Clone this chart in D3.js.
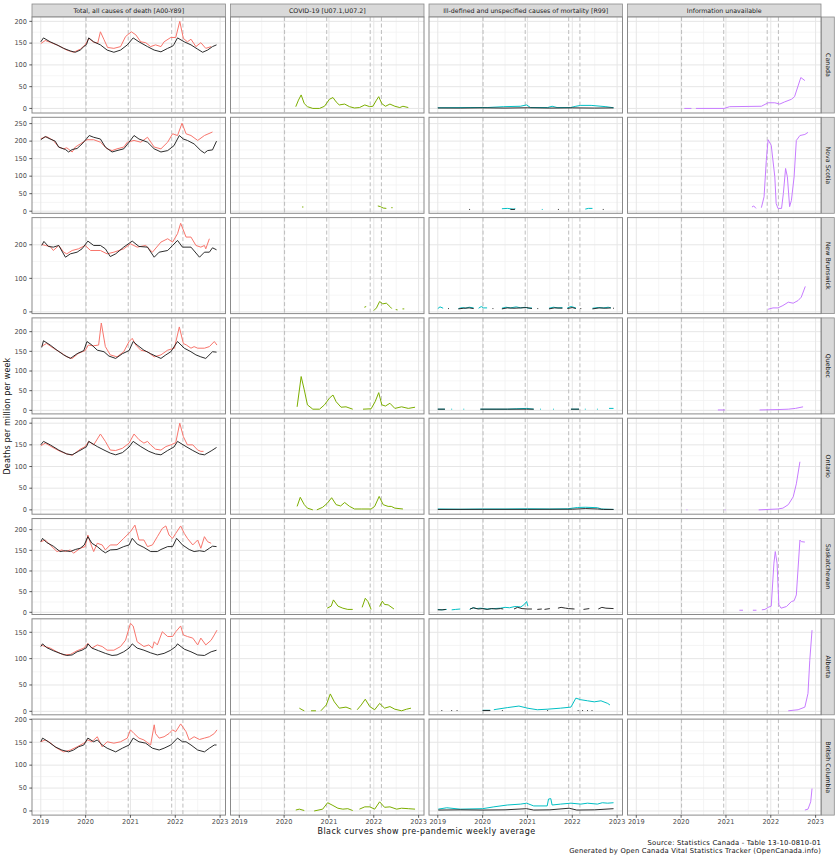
<!DOCTYPE html>
<html><head><meta charset="utf-8">
<script src="https://cdn.jsdelivr.net/npm/d3@7"></script>
<style>body{margin:0;background:#fff}svg{display:block}text{font-family:"DejaVu Sans",sans-serif}</style>
</head><body><svg id="c" width="839" height="858"></svg>
<script>
// ---------------- DATA ----------------
const provinces = ["Canada","Nova Scotia","New Brunswick","Quebec","Ontario","Saskatchewan","Alberta","British Columbia"];
const causes = ["Total, all causes of death [A00-Y89]","COVID-19 [U07.1,U07.2]","Ill-defined and unspecified causes of mortality [R99]","Information unavailable"];
const causeColors = ["#F8766D","#7CAE00","#00BFC4","#C77CFF"];
const yearTicks = [2019,2020,2021,2022,2023];
const yearMinor = [2019.5,2020.5,2021.5,2022.5];
const eventDates = [2020.01,2020.95,2021.92,2022.17];
const xLimits = [2018.804,2023.12];
const yTicksByProvince = [[0,50,100,150,200],[0,50,100,150,200,250],[0,100,200],[0,50,100,150,200],[0,50,100,150,200],[0,50,100,150,200],[0,50,100,150],[0,50,100,150,200]];
const yLimitsByProvince = [[-10.5,210],[-6,268],[-5,281],[-9,235],[-10,211.5],[-5.3,227],[-6.6,175.6],[-9,200.5]];
const yTitle = "Deaths per million per week";
const xTitle = "Black curves show pre-pandemic weekly average";
const captionLines = ["Source: Statistics Canada - Table 13-10-0810-01","Generated by Open Canada Vital Statistics Tracker (OpenCanada.info)"];

// Canada
const caTotal = [[2019.00,149],[2019.10,156],[2019.21,152],[2019.40,144],[2019.58,134],[2019.73,129],[2019.88,136],[2019.99,146],[2020.07,161],[2020.18,152],[2020.27,150],[2020.33,176],[2020.41,158],[2020.49,140],[2020.63,138],[2020.78,142],[2020.89,165],[2021.02,176],[2021.12,169],[2021.23,153],[2021.34,151],[2021.45,142],[2021.56,146],[2021.68,142],[2021.75,153],[2021.90,163],[2022.01,163],[2022.10,200],[2022.18,161],[2022.27,153],[2022.35,159],[2022.46,142],[2022.57,151],[2022.68,138],[2022.80,142]];
const caBase = [[2019.00,153],[2019.06,162],[2019.21,153],[2019.36,146],[2019.51,138],[2019.66,132],[2019.77,129],[2019.88,134],[2019.96,142],[2020.02,147],[2020.07,162],[2020.18,153],[2020.33,146],[2020.48,134],[2020.63,129],[2020.78,134],[2020.93,146],[2021.06,162],[2021.19,153],[2021.38,142],[2021.53,134],[2021.68,130],[2021.83,138],[2021.94,143],[2021.97,147],[2022.05,162],[2022.20,153],[2022.35,146],[2022.50,136],[2022.61,129],[2022.72,134],[2022.83,142],[2022.92,146]];
const caCovid = [[2020.26,4],[2020.32,19],[2020.38,31],[2020.45,11],[2020.52,4],[2020.64,0],[2020.79,0],[2020.90,5],[2021.01,21],[2021.09,25],[2021.16,15],[2021.23,8],[2021.35,10],[2021.46,4],[2021.57,1],[2021.68,2],[2021.80,8],[2021.91,4],[2021.98,5],[2022.06,19],[2022.11,27],[2022.18,11],[2022.26,5],[2022.36,10],[2022.47,5],[2022.58,2],[2022.65,5],[2022.77,2]];
const caIll = [[2019.00,1.5],[2019.72,2],[2020.10,2],[2020.47,4],[2020.84,5],[2020.98,8],[2021.07,2],[2021.45,2],[2021.55,5],[2021.66,2],[2021.96,2],[2022.08,5],[2022.19,7],[2022.42,7],[2022.64,5],[2022.75,4],[2022.92,1.5]];
const caIllBase = [[2019.00,1],[2019.50,0.8],[2020.00,1.3],[2020.50,0.8],[2021.00,1.5],[2021.50,0.8],[2022.00,1.3],[2022.50,0.8],[2022.92,1.2]];
const caUnavail = [[2020.07,0],[2020.23,0],[2020.26,null],[2020.33,0],[2020.96,0],[2021.08,4],[2021.79,5],[2021.94,13],[2022.09,13],[2022.20,10],[2022.31,15],[2022.46,21],[2022.53,27],[2022.67,71],[2022.76,64]];

// Nova Scotia
const nsTotal = [[2019.00,207],[2019.13,213],[2019.28,202],[2019.40,183],[2019.51,178],[2019.58,181],[2019.70,169],[2019.77,183],[2019.88,192],[2020.03,204],[2020.18,204],[2020.33,197],[2020.48,178],[2020.59,173],[2020.70,178],[2020.85,183],[2020.93,197],[2021.08,202],[2021.23,197],[2021.38,211],[2021.53,183],[2021.68,178],[2021.83,197],[2021.94,221],[2022.05,216],[2022.15,251],[2022.24,221],[2022.35,216],[2022.50,202],[2022.65,216],[2022.83,226]];
const nsBase = [[2019.00,204],[2019.10,213],[2019.21,206],[2019.32,200],[2019.40,183],[2019.55,176],[2019.62,169],[2019.70,176],[2019.81,179],[2019.92,192],[2020.03,208],[2020.08,216],[2020.18,211],[2020.33,206],[2020.44,183],[2020.59,169],[2020.70,173],[2020.85,178],[2020.97,197],[2021.08,216],[2021.19,206],[2021.38,197],[2021.53,178],[2021.68,169],[2021.83,173],[2021.97,187],[2022.09,216],[2022.18,206],[2022.27,202],[2022.42,192],[2022.57,173],[2022.65,166],[2022.72,173],[2022.83,175],[2022.92,200]];
const nsCovid = [[2020.40,12],[2020.43,12],[2020.44,null],[2022.09,15],[2022.15,13],[2022.21,9],[2022.28,8],[2022.30,null],[2022.39,10],[2022.42,10]];
const nsIll = [[2020.43,7],[2020.55,8],[2020.68,6],[2020.73,7],[2020.75,null],[2021.32,5],[2021.34,5],[2021.36,null],[2022.29,6],[2022.36,8],[2022.45,8]];
const nsIllBase = [[2019.70,5],[2019.72,5],[2019.74,null],[2020.62,5],[2020.72,5],[2020.74,null],[2021.68,5],[2021.70,5],[2021.72,null],[2022.68,5],[2022.70,5]];
const nsUnavail = [[2021.58,12],[2021.62,15],[2021.67,8],[2021.69,null],[2021.79,10],[2021.85,41],[2021.90,145],[2021.94,204],[2022.01,188],[2022.09,98],[2022.12,22],[2022.16,8],[2022.24,8],[2022.28,50],[2022.33,122],[2022.37,98],[2022.42,13],[2022.46,31],[2022.52,98],[2022.57,202],[2022.65,216],[2022.76,219],[2022.83,225]];

// New Brunswick
const nbTotal = [[2019.02,201],[2019.10,198],[2019.21,195],[2019.28,183],[2019.40,198],[2019.51,178],[2019.58,173],[2019.70,183],[2019.84,188],[2019.99,198],[2020.11,183],[2020.33,183],[2020.48,173],[2020.63,178],[2020.85,188],[2021.00,203],[2021.15,193],[2021.34,198],[2021.49,178],[2021.68,208],[2021.83,218],[2021.94,208],[2022.05,233],[2022.12,264],[2022.24,223],[2022.35,223],[2022.46,198],[2022.57,193],[2022.65,198],[2022.68,188],[2022.76,218]];
const nbBase = [[2019.02,198],[2019.07,210],[2019.17,195],[2019.28,193],[2019.40,198],[2019.55,163],[2019.66,173],[2019.81,178],[2019.92,188],[2020.05,211],[2020.18,198],[2020.33,198],[2020.44,188],[2020.55,165],[2020.67,173],[2020.85,193],[2021.04,211],[2021.19,195],[2021.38,193],[2021.53,163],[2021.64,178],[2021.83,183],[2021.94,198],[2022.05,213],[2022.16,193],[2022.35,193],[2022.54,163],[2022.65,178],[2022.76,178],[2022.83,191],[2022.92,185]];
const nbCovid = [[2021.79,14],[2021.83,16],[2021.85,null],[2022.00,4],[2022.06,12],[2022.13,31],[2022.20,24],[2022.28,26],[2022.36,16],[2022.40,10],[2022.42,null],[2022.49,7],[2022.53,6],[2022.55,null],[2022.64,9],[2022.68,9]];
const nbIll = [[2019.00,10],[2019.05,15],[2019.12,11],[2019.13,null],[2019.46,10],[2019.55,13],[2019.62,11],[2019.70,14],[2019.80,12],[2019.81,null],[2019.91,11],[2019.97,16],[2020.02,12],[2020.10,12],[2020.11,null],[2020.43,11],[2020.52,14],[2020.62,12],[2020.75,15],[2020.85,12],[2020.95,14],[2021.02,11],[2021.10,12],[2021.11,null],[2021.48,11],[2021.58,14],[2021.68,12],[2021.78,13],[2021.79,null],[2021.89,12],[2021.97,16],[2022.08,12],[2022.09,null],[2022.45,11],[2022.58,13],[2022.70,12],[2022.80,14],[2022.86,12]];
const nbIllBase = [[2019.23,10],[2019.25,10],[2019.26,null],[2019.46,9],[2019.58,11],[2019.70,12],[2019.80,10],[2019.81,null],[2020.22,10],[2020.24,10],[2020.25,null],[2020.43,9],[2020.55,12],[2020.70,11],[2020.85,12],[2020.98,13],[2021.10,10],[2021.11,null],[2021.22,10],[2021.24,10],[2021.25,null],[2021.48,9],[2021.60,12],[2021.78,11],[2021.79,null],[2021.89,10],[2022.00,13],[2022.08,10],[2022.09,null],[2022.18,10],[2022.20,10],[2022.21,null],[2022.45,9],[2022.60,12],[2022.75,11],[2022.86,12],[2022.87,null],[2022.91,11],[2022.93,11]];
const nbUnavail = [[2021.94,8],[2022.05,12],[2022.16,12],[2022.27,19],[2022.39,29],[2022.50,26],[2022.61,34],[2022.68,44],[2022.77,76]];

// Quebec
const qcTotal = [[2019.02,163],[2019.13,170],[2019.28,158],[2019.47,145],[2019.58,136],[2019.70,132],[2019.84,145],[2019.99,152],[2020.06,166],[2020.17,164],[2020.29,166],[2020.35,222],[2020.44,162],[2020.55,141],[2020.70,136],[2020.85,149],[2020.97,175],[2021.04,183],[2021.12,166],[2021.23,153],[2021.38,149],[2021.53,136],[2021.68,141],[2021.83,153],[2021.98,158],[2022.09,212],[2022.18,170],[2022.25,166],[2022.35,158],[2022.42,162],[2022.50,158],[2022.65,158],[2022.76,162],[2022.87,175],[2022.93,166]];
const qcBase = [[2019.02,160],[2019.06,177],[2019.21,166],[2019.36,153],[2019.51,141],[2019.66,132],[2019.81,144],[2019.96,152],[2020.03,175],[2020.14,166],[2020.26,153],[2020.41,149],[2020.52,138],[2020.67,132],[2020.82,144],[2020.97,152],[2021.06,175],[2021.15,166],[2021.30,153],[2021.45,144],[2021.60,136],[2021.68,132],[2021.79,141],[2021.90,149],[2022.05,175],[2022.20,158],[2022.35,149],[2022.46,141],[2022.57,136],[2022.68,132],[2022.83,149],[2022.92,148]];
const qcCovid = [[2020.29,9],[2020.38,86],[2020.45,52],[2020.52,14],[2020.64,3],[2020.79,3],[2020.90,14],[2021.01,31],[2021.09,39],[2021.16,22],[2021.27,8],[2021.38,9],[2021.53,3],[2021.55,null],[2021.76,3],[2021.94,4],[2022.03,22],[2022.11,45],[2022.18,14],[2022.26,11],[2022.36,18],[2022.47,5],[2022.62,9],[2022.77,5],[2022.92,8]];
const qcIll = [[2019.00,3],[2019.16,3],[2019.17,null],[2019.30,3],[2019.32,3],[2019.33,null],[2019.57,3],[2019.59,3],[2019.60,null],[2019.95,3],[2020.30,3],[2020.55,3],[2020.75,4],[2020.98,5],[2021.14,3],[2021.15,null],[2021.28,3],[2021.30,3],[2021.31,null],[2021.57,3],[2021.59,3],[2021.60,null],[2021.97,3],[2022.15,3],[2022.16,null],[2022.28,3],[2022.30,3],[2022.31,null],[2022.55,3],[2022.57,3],[2022.58,null],[2022.82,5],[2022.92,5]];
const qcIllBase = [[2019.00,3],[2019.16,3],[2019.17,null],[2019.95,3],[2020.55,3],[2020.98,3],[2021.14,3],[2021.15,null],[2021.97,3],[2022.15,3]];
const qcUnavail = [[2020.82,1],[2020.98,1],[2020.99,null],[2021.75,1],[2022.16,2],[2022.39,3],[2022.55,5],[2022.72,9]];

// Ontario
const onTotal = [[2019.00,148],[2019.10,154],[2019.25,145],[2019.43,135],[2019.58,129],[2019.70,126],[2019.88,140],[2019.99,146],[2020.07,158],[2020.18,150],[2020.33,175],[2020.44,158],[2020.55,138],[2020.67,137],[2020.82,142],[2020.97,154],[2021.08,175],[2021.19,162],[2021.30,154],[2021.38,158],[2021.45,150],[2021.56,140],[2021.68,138],[2021.79,146],[2021.90,150],[2022.01,155],[2022.10,200],[2022.18,169],[2022.27,150],[2022.39,150],[2022.50,138],[2022.57,135],[2022.63,135]];
const onBase = [[2019.00,150],[2019.06,158],[2019.21,150],[2019.40,138],[2019.58,129],[2019.70,127],[2019.84,135],[2019.96,142],[2020.02,146],[2020.07,158],[2020.26,146],[2020.41,138],[2020.55,131],[2020.67,127],[2020.82,132],[2020.97,145],[2021.06,158],[2021.23,146],[2021.41,135],[2021.56,129],[2021.68,127],[2021.83,137],[2021.97,145],[2022.05,158],[2022.24,146],[2022.39,137],[2022.54,129],[2022.65,127],[2022.80,136],[2022.92,144]];
const onCovid = [[2020.29,8],[2020.36,29],[2020.45,12],[2020.52,4],[2020.64,0],[2020.66,null],[2020.73,0],[2020.86,6],[2020.96,15],[2021.06,28],[2021.16,12],[2021.26,9],[2021.35,17],[2021.46,8],[2021.57,2],[2021.72,2],[2021.94,2],[2022.02,8],[2022.12,31],[2022.21,12],[2022.32,8],[2022.39,8],[2022.47,4],[2022.65,2]];
const onIll = [[2019.00,2],[2019.50,1.5],[2020.00,2],[2020.50,2],[2021.00,2.5],[2021.50,2],[2021.90,2.5],[2022.12,5.5],[2022.30,6],[2022.56,5],[2022.65,2],[2022.92,1]];
const onIllBase = [[2019.00,1],[2020.00,1.2],[2021.00,1.2],[2022.00,1.5],[2022.30,3],[2022.56,2],[2022.70,1],[2022.92,1]];
const onUnavail = [[2020.12,0],[2020.14,0],[2020.15,null],[2020.97,0],[2020.99,0],[2021.00,null],[2021.73,0],[2022.16,2],[2022.27,4],[2022.39,12],[2022.50,30],[2022.57,60],[2022.65,111]];

// Saskatchewan
const skTotal = [[2019.00,171],[2019.10,175],[2019.21,163],[2019.36,147],[2019.47,151],[2019.55,147],[2019.66,151],[2019.73,143],[2019.88,155],[2019.99,159],[2020.05,187],[2020.11,167],[2020.18,147],[2020.26,167],[2020.37,163],[2020.44,151],[2020.55,163],[2020.70,163],[2020.85,179],[2021.00,195],[2021.10,211],[2021.19,175],[2021.30,175],[2021.38,159],[2021.49,163],[2021.60,183],[2021.71,203],[2021.79,209],[2021.86,187],[2021.94,179],[2022.01,191],[2022.12,209],[2022.20,191],[2022.27,179],[2022.39,163],[2022.50,175],[2022.57,155],[2022.65,183],[2022.72,171],[2022.80,167]];
const skBase = [[2019.00,171],[2019.04,179],[2019.13,169],[2019.28,160],[2019.43,147],[2019.55,149],[2019.66,147],[2019.77,152],[2019.88,155],[2019.97,163],[2020.05,183],[2020.14,167],[2020.26,159],[2020.37,149],[2020.44,144],[2020.55,151],[2020.70,152],[2020.85,159],[2020.97,163],[2021.04,179],[2021.15,165],[2021.30,157],[2021.45,147],[2021.60,147],[2021.68,152],[2021.83,159],[2021.94,159],[2022.03,179],[2022.16,163],[2022.31,152],[2022.42,147],[2022.54,149],[2022.65,147],[2022.76,155],[2022.83,160],[2022.92,159]];
const skCovid = [[2020.96,10],[2021.05,15],[2021.10,30],[2021.20,15],[2021.31,10],[2021.42,7],[2021.53,7],[2021.55,null],[2021.74,12],[2021.81,34],[2021.87,26],[2021.94,7],[2021.96,null],[2022.13,14],[2022.19,27],[2022.24,19],[2022.32,18],[2022.45,8]];
const skIll = [[2019.00,7],[2019.08,6],[2019.20,7],[2019.21,null],[2019.31,6],[2019.40,7],[2019.50,8],[2019.51,null],[2019.71,7],[2019.78,11],[2019.86,9],[2019.95,10],[2020.10,8],[2020.25,9],[2020.40,10],[2020.50,12],[2020.60,11],[2020.72,14],[2020.85,13],[2020.92,18],[2020.98,26],[2021.01,15]];
const skIllBase = [[2019.00,6],[2019.10,6],[2019.18,7],[2019.19,null],[2019.72,8],[2019.80,11],[2019.90,8],[2020.00,9],[2020.10,7],[2020.20,9],[2020.30,8],[2020.40,9],[2020.46,8],[2020.47,null],[2020.70,8],[2020.78,12],[2020.88,9],[2021.00,8],[2021.10,8],[2021.11,null],[2021.22,7],[2021.32,8],[2021.33,null],[2021.38,7],[2021.50,9],[2021.51,null],[2021.68,10],[2021.75,12],[2021.85,10],[2021.92,9],[2022.05,8],[2022.06,null],[2022.25,7],[2022.38,9],[2022.39,null],[2022.58,8],[2022.66,12],[2022.75,10],[2022.92,9]];
const skUnavail = [[2021.30,5],[2021.38,5],[2021.39,null],[2021.60,5],[2021.68,5],[2021.69,null],[2021.80,6],[2021.87,7],[2021.94,12],[2022.01,15],[2022.07,119],[2022.10,147],[2022.14,119],[2022.18,18],[2022.23,10],[2022.35,14],[2022.46,26],[2022.52,28],[2022.57,42],[2022.65,175],[2022.68,171],[2022.76,170]];

// Alberta
const abTotal = [[2019.00,126],[2019.06,124],[2019.21,120],[2019.36,113],[2019.51,107],[2019.66,108],[2019.81,115],[2019.96,120],[2020.05,129],[2020.14,120],[2020.26,126],[2020.37,123],[2020.48,116],[2020.63,116],[2020.78,123],[2020.89,135],[2021.00,167],[2021.06,162],[2021.15,132],[2021.30,123],[2021.41,126],[2021.49,120],[2021.53,132],[2021.60,126],[2021.71,151],[2021.83,142],[2021.94,142],[2022.01,151],[2022.12,162],[2022.18,145],[2022.27,142],[2022.39,139],[2022.50,126],[2022.57,139],[2022.68,126],[2022.80,135],[2022.87,145],[2022.93,154]];
const abBase = [[2019.00,123],[2019.04,128],[2019.13,121],[2019.28,115],[2019.43,110],[2019.58,106],[2019.70,107],[2019.81,113],[2019.92,116],[2020.02,121],[2020.05,128],[2020.14,120],[2020.29,115],[2020.44,110],[2020.59,106],[2020.70,107],[2020.85,113],[2020.97,120],[2021.04,128],[2021.15,120],[2021.30,116],[2021.45,111],[2021.60,107],[2021.75,110],[2021.90,116],[2022.01,123],[2022.05,128],[2022.20,118],[2022.35,113],[2022.50,107],[2022.65,106],[2022.80,113],[2022.92,116]];
const abCovid = [[2020.34,6],[2020.40,3],[2020.45,1],[2020.46,null],[2020.60,1],[2020.71,1],[2020.72,null],[2020.82,1],[2020.94,12],[2021.03,33],[2021.12,18],[2021.23,6],[2021.38,8],[2021.50,4],[2021.52,null],[2021.63,3],[2021.72,12],[2021.81,23],[2021.91,9],[2022.02,3],[2022.13,15],[2022.24,6],[2022.36,9],[2022.47,4],[2022.62,1],[2022.73,4],[2022.83,6]];
const abIll = [[2020.00,2],[2020.17,2],[2020.18,null],[2020.25,3],[2020.32,4],[2020.55,7],[2020.81,10],[2021.00,6],[2021.22,3],[2021.44,4],[2021.74,6],[2021.97,8],[2022.08,25],[2022.19,22],[2022.34,20],[2022.49,18],[2022.64,20],[2022.79,15],[2022.84,12]];
const abIllBase = [[2019.08,1.5],[2019.10,1.5],[2019.11,null],[2019.30,1.5],[2019.32,1.5],[2019.33,null],[2019.42,1.5],[2019.44,1.5],[2019.45,null],[2020.00,1.5],[2020.17,1.5],[2020.18,null],[2020.43,1.5],[2020.45,1.5],[2020.46,null],[2021.44,1.5],[2021.46,1.5],[2021.47,null],[2022.12,1.5],[2022.14,1.5],[2022.15,null],[2022.22,1.5],[2022.24,1.5],[2022.25,null],[2022.33,1.5],[2022.35,1.5],[2022.36,null],[2022.43,1.5],[2022.45,1.5]];
const abUnavail = [[2022.39,1],[2022.61,3],[2022.76,8],[2022.83,34],[2022.87,97],[2022.92,154]];

// British Columbia
const bcTotal = [[2019.00,151],[2019.10,155],[2019.21,149],[2019.36,137],[2019.51,129],[2019.66,133],[2019.81,140],[2019.96,148],[2020.05,155],[2020.14,151],[2020.26,162],[2020.37,140],[2020.48,151],[2020.63,148],[2020.78,151],[2020.93,159],[2021.00,177],[2021.08,169],[2021.19,159],[2021.30,155],[2021.45,144],[2021.53,188],[2021.56,169],[2021.64,159],[2021.75,162],[2021.86,169],[2021.94,177],[2022.01,173],[2022.12,190],[2022.24,173],[2022.31,155],[2022.42,162],[2022.54,156],[2022.65,159],[2022.76,162],[2022.87,169],[2022.93,177]];
const bcBase = [[2019.00,151],[2019.04,159],[2019.17,151],[2019.32,140],[2019.47,133],[2019.62,129],[2019.73,133],[2019.84,140],[2019.96,144],[2020.05,159],[2020.18,151],[2020.26,155],[2020.37,144],[2020.48,137],[2020.67,129],[2020.82,137],[2020.97,144],[2021.06,159],[2021.19,151],[2021.34,148],[2021.49,137],[2021.64,133],[2021.75,137],[2021.90,144],[2022.05,159],[2022.16,151],[2022.24,151],[2022.35,144],[2022.50,133],[2022.65,129],[2022.76,137],[2022.87,144],[2022.92,144]];
const bcCovid = [[2020.26,2],[2020.34,4],[2020.45,1],[2020.46,null],[2020.67,0],[2020.86,4],[2020.97,18],[2021.07,13],[2021.20,6],[2021.31,4],[2021.42,5],[2021.53,1],[2021.55,null],[2021.68,4],[2021.80,9],[2021.91,9],[2022.02,4],[2022.13,20],[2022.24,8],[2022.36,9],[2022.51,4],[2022.62,6],[2022.77,5],[2022.92,4]];
const bcIll = [[2019.01,4],[2019.20,7],[2019.50,4],[2020.00,5],[2020.25,9],[2020.55,13],[2020.85,15],[2020.98,17],[2021.14,11],[2021.44,11],[2021.47,26],[2021.52,27],[2021.55,13],[2021.74,15],[2021.97,17],[2022.19,15],[2022.34,17],[2022.56,15],[2022.67,18],[2022.79,17],[2022.92,18]];
const bcIllBase = [[2019.01,2],[2019.50,2.5],[2020.00,2],[2020.50,2.5],[2020.98,5],[2021.14,2],[2021.50,2.5],[2021.93,6],[2022.10,2],[2022.50,2.5],[2022.92,5]];
const bcUnavail = [[2022.76,2],[2022.83,4],[2022.89,20],[2022.92,49]];

// lookup tables built from the arrays above
const observed = [
  [caTotal,caCovid,caIll,caUnavail],[nsTotal,nsCovid,nsIll,nsUnavail],[nbTotal,nbCovid,nbIll,nbUnavail],[qcTotal,qcCovid,qcIll,qcUnavail],
  [onTotal,onCovid,onIll,onUnavail],[skTotal,skCovid,skIll,skUnavail],[abTotal,abCovid,abIll,abUnavail],[bcTotal,bcCovid,bcIll,bcUnavail]];
const baseline = [
  [caBase,null,caIllBase,null],[nsBase,null,nsIllBase,null],[nbBase,null,nbIllBase,null],[qcBase,null,qcIllBase,null],
  [onBase,null,onIllBase,null],[skBase,null,skIllBase,null],[abBase,null,abIllBase,null],[bcBase,null,bcIllBase,null]];

// ---------------- LAYOUT ----------------
const W = 839, H = 858;
const panelLeft0 = 32, panelW = 193.5, colStep = 198.5;
const panelTop0 = 17, panelH = 96, rowStep = 100.3;
const stripH = 13, rStripW = 12.8;
const fontSmall = 6.6;

const svg = d3.select("#c");
svg.append("rect").attr("width", W).attr("height", H).attr("fill", "#fff");
const defs = svg.append("defs");

const x = d3.scaleLinear().domain(xLimits).range([0, panelW]);

function minorTicks(ticks, dom) {
  const step = ticks[1] - ticks[0];
  const out = [];
  for (let v = ticks[0] - step / 2; v <= ticks[ticks.length - 1] + step / 2 + 1e-9; v += step) {
    if (v > dom[0] && v < dom[1]) out.push(v);
  }
  return out;
}

// top strips
causes.forEach((c, ci) => {
  const gx = panelLeft0 + ci * colStep;
  svg.append("rect").attr("x", gx).attr("y", panelTop0 - stripH).attr("width", panelW).attr("height", stripH)
    .attr("fill", "#D9D9D9").attr("stroke", "#8a8a8a").attr("stroke-width", 0.8);
  svg.append("text").attr("x", gx + panelW / 2).attr("y", panelTop0 - stripH / 2).attr("dy", "0.35em")
    .attr("text-anchor", "middle").attr("font-size", 6.3).attr("fill", "#1A1A1A").text(c);
});

provinces.forEach((p, r) => {
  const top = panelTop0 + r * rowStep;
  const y = d3.scaleLinear().domain(yLimitsByProvince[r]).range([panelH, 0]);
  const yt = yTicksByProvince[r];
  const ym = minorTicks(yt, yLimitsByProvince[r]);
  const line = d3.line().defined(d => d[1] != null).x(d => x(d[0])).y(d => y(d[1]));

  causes.forEach((c, ci) => {
    const left = panelLeft0 + ci * colStep;
    const g = svg.append("g").attr("transform", `translate(${left},${top})`);
    const cid = `clip-${r}-${ci}`;
    defs.append("clipPath").attr("id", cid).append("rect").attr("width", panelW).attr("height", panelH);
    g.append("rect").attr("width", panelW).attr("height", panelH).attr("fill", "#fff");
    g.selectAll(".mx").data(yearMinor).join("line").attr("x1", d => x(d)).attr("x2", d => x(d)).attr("y1", 0).attr("y2", panelH)
      .attr("stroke", "#F1F1F1").attr("stroke-width", 0.7);
    g.selectAll(".my").data(ym).join("line").attr("y1", d => y(d)).attr("y2", d => y(d)).attr("x1", 0).attr("x2", panelW)
      .attr("stroke", "#F1F1F1").attr("stroke-width", 0.7);
    g.selectAll(".Mx").data(yearTicks).join("line").attr("x1", d => x(d)).attr("x2", d => x(d)).attr("y1", 0).attr("y2", panelH)
      .attr("stroke", "#E6E6E6").attr("stroke-width", 1);
    g.selectAll(".My").data(yt).join("line").attr("y1", d => y(d)).attr("y2", d => y(d)).attr("x1", 0).attr("x2", panelW)
      .attr("stroke", "#E6E6E6").attr("stroke-width", 1);
    g.selectAll(".ev").data(eventDates).join("line").attr("x1", d => x(d)).attr("x2", d => x(d)).attr("y1", 0).attr("y2", panelH)
      .attr("stroke", "#BDBDBD").attr("stroke-width", 1).attr("stroke-dasharray", "4,2.5");
    const pg = g.append("g").attr("clip-path", `url(#${cid})`);
    const obs = observed[r][ci];
    if (obs) {
      pg.append("path").attr("d", line(obs)).attr("fill", "none").attr("stroke", causeColors[ci])
        .attr("stroke-width", 1).attr("stroke-linejoin", "round");
    }
    const base = baseline[r][ci];
    if (base) {
      pg.append("path").attr("d", line(base)).attr("fill", "none").attr("stroke", "#222")
        .attr("stroke-width", 0.95).attr("stroke-linejoin", "round");
    }
    g.append("rect").attr("width", panelW).attr("height", panelH).attr("fill", "none")
      .attr("stroke", "#8a8a8a").attr("stroke-width", 1);

    if (ci === 0) {
      const ax = g.append("g");
      ax.selectAll("line").data(yt).join("line").attr("x1", -2.7).attr("x2", 0).attr("y1", d => y(d)).attr("y2", d => y(d))
        .attr("stroke", "#333").attr("stroke-width", 0.8);
      ax.selectAll("text").data(yt).join("text").attr("x", -5).attr("y", d => y(d)).attr("dy", "0.35em")
        .attr("text-anchor", "end").attr("font-size", fontSmall).attr("fill", "#4D4D4D").text(d => d);
    }
    if (r === provinces.length - 1) {
      const ax = g.append("g").attr("transform", `translate(0,${panelH})`);
      ax.selectAll("line").data(yearTicks).join("line").attr("x1", d => x(d)).attr("x2", d => x(d)).attr("y1", 0).attr("y2", 2.7)
        .attr("stroke", "#333").attr("stroke-width", 0.8);
      ax.selectAll("text").data(yearTicks).join("text").attr("x", d => x(d)).attr("y", 9.2)
        .attr("text-anchor", "middle").attr("font-size", fontSmall).attr("fill", "#4D4D4D").text(d => d);
    }
  });

  const sx = panelLeft0 + 3 * colStep + panelW + 0.5;
  svg.append("rect").attr("x", sx).attr("y", top).attr("width", rStripW).attr("height", panelH)
    .attr("fill", "#D9D9D9").attr("stroke", "#8a8a8a").attr("stroke-width", 0.8);
  svg.append("text").attr("transform", `translate(${sx + rStripW / 2},${top + panelH / 2}) rotate(90)`)
    .attr("dy", "0.35em").attr("text-anchor", "middle").attr("font-size", 6.3).attr("fill", "#1A1A1A").text(p);
});

const plotLeft = panelLeft0, plotRight = panelLeft0 + 3 * colStep + panelW;
const plotTop = panelTop0, plotBottom = panelTop0 + 7 * rowStep + panelH;
svg.append("text").attr("x", (plotLeft + plotRight) / 2).attr("y", 834.3).attr("text-anchor", "middle")
  .attr("font-size", 8).attr("letter-spacing", 0.45).attr("fill", "#111").text(xTitle);
svg.append("text").attr("transform", `translate(7.5,${(plotTop + plotBottom) / 2}) rotate(-90)`).attr("dy", "0.35em")
  .attr("text-anchor", "middle").attr("font-size", 8).attr("letter-spacing", 0.15).attr("fill", "#111").text(yTitle);
captionLines.forEach((t, i) => {
  svg.append("text").attr("x", plotRight).attr("y", 844.5 + i * 8.3).attr("text-anchor", "end")
    .attr("font-size", 6.8).attr("letter-spacing", 0.2).attr("fill", "#111").text(t);
});
</script>
</body></html>
